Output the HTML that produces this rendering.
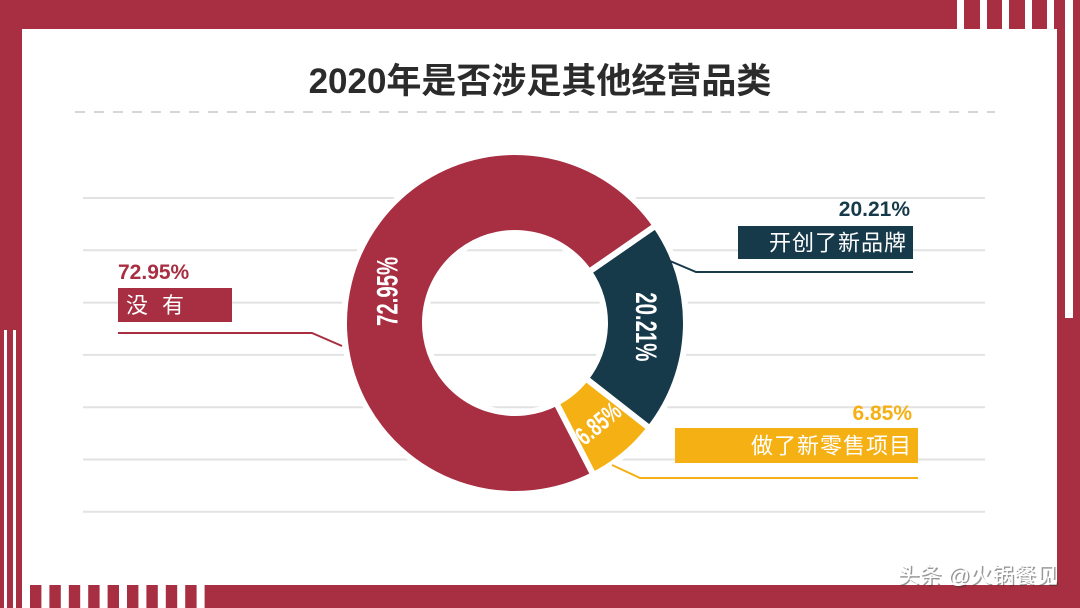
<!DOCTYPE html>
<html><head><meta charset="utf-8">
<style>
html,body{margin:0;padding:0}
body{width:1080px;height:608px;position:relative;overflow:hidden;background:#a82e42;font-family:"Liberation Sans","Noto Sans CJK SC",sans-serif}
.abs{position:absolute}
</style></head><body>
<div class="abs" style="left:22px;top:29px;width:1035px;height:556px;background:#fff"></div>
<svg class="abs" style="left:0;top:0" width="1080" height="608">
  <g id="frame"></g>
  <g id="grid"></g>
  <line x1="75" y1="112" x2="995" y2="112" stroke="#c8c8c8" stroke-width="1.5" stroke-dasharray="10,9"/>
  <text x="540" y="93" text-anchor="middle" font-size="35" font-weight="bold" fill="#2b2b2b">2020年是否涉足其他经营品类</text>
  <g id="donut"></g>
  <g id="callouts"></g>
  <text x="1058" y="583" text-anchor="end" font-size="22" fill="#333" opacity="0.5" transform="translate(1.5,1.5)">头条 @火锅餐见</text>
  <text x="1058" y="583" text-anchor="end" font-size="22" fill="#fff">头条 @火锅餐见</text>
</svg>
<script>
const categories = ["没有", "开创了新品牌", "做了新零售项目"];
const values = [72.95, 20.21, 6.85];
const valueLabels = ["72.95%", "20.21%", "6.85%"];
const colors = ["#a82e42", "#173a4b", "#f5b014"];

const NS = "http://www.w3.org/2000/svg";
function mk(tag, attrs, parent){const e=document.createElementNS(NS,tag);for(const k in attrs)e.setAttribute(k,attrs[k]);parent.appendChild(e);return e;}

// frame
const frame=document.getElementById('frame');
[957,980,1002,1025,1047].forEach(x=>{const r=mk('rect',{x:x,y:0,width:7,height:29,fill:'#fff'},frame);

});
{const r=mk('rect',{x:1065,y:0,width:8,height:318,fill:'#fff'},frame);

}
for(let i=0;i<10;i++){const r=mk('rect',{x:22+i*19.4,y:585,width:8,height:23,fill:'#fff'},frame);

}
[4,13].forEach(x=>{const r=mk('rect',{x:x,y:330,width:3,height:278,fill:'#fff'},frame);

});

// grid
const grid=document.getElementById('grid');
for(let i=0;i<7;i++){const l=mk('line',{x1:83,x2:985,y1:198+i*52.3,y2:198+i*52.3,stroke:'#e2e2e2','stroke-width':2},grid);

}

// donut
const cx=515, cy=323, R=171, r0=90;
const total=values.reduce((a,b)=>a+b,0);
const darkYellow=values[1]+values[2];
let start=104-(darkYellow/total*360)/2; // degrees clockwise from 12 o'clock
function pt(a,rad){const t=(a-90)*Math.PI/180;return [cx+rad*Math.cos(t),cy+rad*Math.sin(t)];}
const donut=document.getElementById('donut');
const order=[1,2,0];
let a=start;
const mids={};
order.forEach(i=>{
  const sweep=values[i]/total*360;
  const a1=a, a2=a+sweep;
  const [x1,y1]=pt(a1,R),[x2,y2]=pt(a2,R),[x3,y3]=pt(a2,r0),[x4,y4]=pt(a1,r0);
  const large=sweep>180?1:0;
  const p=mk('path',{d:`M${x1},${y1}A${R},${R} 0 ${large} 1 ${x2},${y2}L${x3},${y3}A${r0},${r0} 0 ${large} 0 ${x4},${y4}Z`,fill:colors[i],stroke:'#fff','stroke-width':6},donut);
  
  
  mids[i]=(a1+a2)/2;
  a=a2;
});
order.forEach(i=>{
  let m=mids[i];
  const [x,y]=pt(m,(R+r0)/2);
  let rot;
  if(i===0) rot=-90; else if(i===1) rot=90; else rot=m-180;
  const fs=i===2?26:30;
  const t=mk('text',{x:0,y:0,'text-anchor':'middle','dominant-baseline':'central','font-size':fs,'font-weight':'bold',fill:'#fff',transform:`translate(${x} ${y}) rotate(${rot}) scale(0.68 1)`},donut);
  t.textContent=valueLabels[i];
  
  
});

// callouts
const co=document.getElementById('callouts');
function callout(i,side,pctX,pctY,bx,by,bw,bh,lineY,lx1,lx2,diag){
  const t=mk('text',{x:pctX,y:pctY,'text-anchor':side==='left'?'start':'end','font-size':21,'font-weight':'bold',fill:colors[i]},co);
  t.textContent=valueLabels[i];
  
  
  const b=mk('rect',{x:bx,y:by,width:bw,height:bh,fill:colors[i]},co);
  
  
  const c=mk('text',{x:side==='left'?bx+8:bx+bw-6,y:by+bh/2+8,'text-anchor':side==='left'?'start':'end','font-size':22,fill:'#fff','letter-spacing':i===0?'14':'1'},co);
  c.textContent=categories[i];
  
  
  const l=mk('polyline',{points:`${lx1},${lineY} ${lx2},${lineY} ${diag[0]},${diag[1]}`,fill:'none',stroke:colors[i],'stroke-width':2},co);
  
  
}
callout(0,'left',118,279,118,288,114,34,333,118,312,[342,346]);
callout(1,'right',910,216,738,226,175,33,272,913,696,[670,261]);
callout(2,'right',912,420,675,428,243,35,478,918,640,[612,465]);
</script>
</body></html>
